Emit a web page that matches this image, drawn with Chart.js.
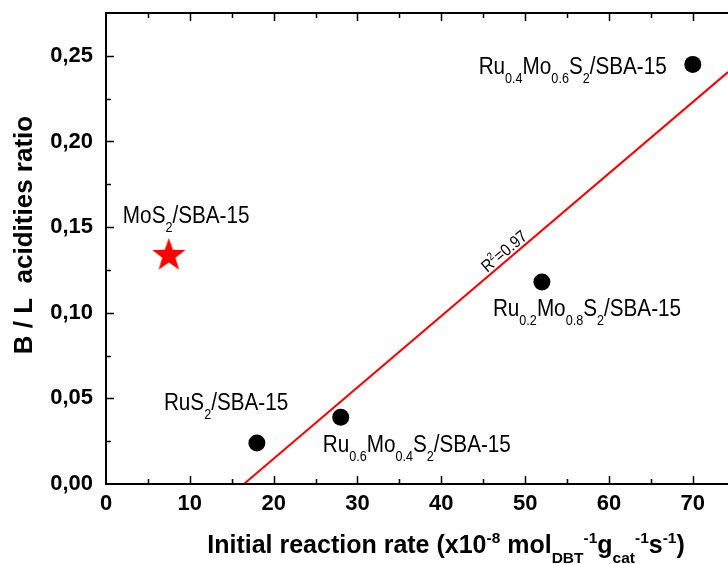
<!DOCTYPE html>
<html>
<head>
<meta charset="utf-8">
<title>B/L ratio vs initial rate</title>
<script src="https://cdn.jsdelivr.net/npm/chart.js@4.4.1/dist/chart.umd.min.js"></script>
<style>
html, body { margin: 0; padding: 0; background: #fff; overflow: hidden; }
canvas { display: block; }
</style>
</head>
<body>
<canvas id="myChart" width="728" height="564"></canvas>
<script>
// catalysts (black dots)
const catRate = [18, 28, 52, 70];
const catRatio = [0.024, 0.039, 0.118, 0.245];
const catLabels = [
    [['RuS', ''], ['2', 'sub'], ['/SBA-15', '']],
    [['Ru', ''], ['0.6', 'sub'], ['Mo', ''], ['0.4', 'sub'], ['S', ''], ['2', 'sub'], ['/SBA-15', '']],
    [['Ru', ''], ['0.2', 'sub'], ['Mo', ''], ['0.8', 'sub'], ['S', ''], ['2', 'sub'], ['/SBA-15', '']],
    [['Ru', ''], ['0.4', 'sub'], ['Mo', ''], ['0.6', 'sub'], ['S', ''], ['2', 'sub'], ['/SBA-15', '']]
];
// MoS2 reference (red star)
const refRate = [7.5];
const refRatio = [0.134];
const refLabel = [['MoS', ''], ['2', 'sub'], ['/SBA-15', '']];
// linear fit
const fitRate = [16.45, 74.2];
const fitRatio = [0, 0.2405];
const fitLabel = [['R', ''], ['2', 'sup'], ['=0.97', '']];
// axes
const xMin = 0, xMax = 74.2;
const yMin = 0, yMax = 0.275;
const xTicks = [0, 10, 20, 30, 40, 50, 60, 70];
const yTicks = [0, 0.05, 0.10, 0.15, 0.20, 0.25];
const xTitle = [['Initial reaction rate (x10', ''], ['-8', 'sup'], [' mol', ''], ['DBT', 'sub'], ['-1', 'sup'],
    ['g', ''], ['cat', 'sub'], ['-1', 'sup'], ['s', ''], ['-1', 'sup'], [')', '']];
const yTitle = 'B / L  acidities ratio';

// where the labels sit relative to their marker (px)
const catLabelPos = [
    { dx: -93, dy: -33, align: 'left' },
    { dx: -18, dy: 35, align: 'left' },
    { dx: -49, dy: 34, align: 'left' },
    { dx: -26, dy: 10, align: 'right' }
];
const refLabelPos = { dx: -46, dy: -31, align: 'left' };

const FAM = '"Liberation Sans", Arial, sans-serif';

function drawRich(ctx, segs, x, y, o) {
    const w = o.bold ? 'bold ' : '';
    let total = 0;
    segs.forEach(s => {
        ctx.font = w + (s[1] ? o.small : o.size) + 'px ' + FAM;
        total += ctx.measureText(s[0]).width;
    });
    ctx.save();
    ctx.translate(x, y);
    if (o.rot) ctx.rotate(o.rot);
    ctx.scale(o.sx || 1, 1);
    let cx = o.align === 'right' ? -total : (o.align === 'center' ? -total / 2 : 0);
    ctx.textAlign = 'left';
    ctx.textBaseline = 'alphabetic';
    ctx.fillStyle = o.color || '#000';
    segs.forEach(s => {
        ctx.font = w + (s[1] ? o.small : o.size) + 'px ' + FAM;
        let dy = 0;
        if (s[1] === 'sub') dy = o.size * 0.38;
        if (s[1] === 'sup') dy = -o.size * 0.42;
        ctx.fillText(s[0], cx, dy);
        cx += ctx.measureText(s[0]).width;
    });
    ctx.restore();
}

function makeStar(R, color) {
    const c = document.createElement('canvas');
    c.width = c.height = Math.ceil(2 * R + 2);
    const g = c.getContext('2d');
    const m = c.width / 2;
    g.beginPath();
    for (let i = 0; i < 10; i++) {
        const r = i % 2 === 0 ? R : R * 0.4;
        const a = -Math.PI / 2 + i * Math.PI / 5;
        g.lineTo(m + r * Math.cos(a), m + 1 + r * Math.sin(a));
    }
    g.closePath();
    g.fillStyle = color;
    g.fill();
    return c;
}

// frame, inner ticks, titles and point labels
const decor = {
    id: 'decor',
    afterDatasetsDraw(chart) {
        const ctx = chart.ctx;
        const a = chart.chartArea;
        const xs = chart.scales.x, ys = chart.scales.y;
        ctx.save();
        ctx.strokeStyle = '#000';
        ctx.lineWidth = 2;
        ctx.beginPath();
        ctx.moveTo(a.left, a.top); ctx.lineTo(a.right + 2, a.top);
        ctx.moveTo(a.left, a.top - 1); ctx.lineTo(a.left, a.bottom);
        ctx.lineTo(a.right + 2, a.bottom);
        ctx.stroke();
        ctx.lineWidth = 1.5;
        ctx.beginPath();
        for (let v = 5; v < xMax; v += 5) {
            const px = Math.round(xs.getPixelForValue(v)) + 0.5;
            const len = v % 10 === 0 ? 8 : 5;
            ctx.moveTo(px, a.bottom); ctx.lineTo(px, a.bottom - len);
            ctx.moveTo(px, a.top); ctx.lineTo(px, a.top + len);
        }
        for (let i = 1; i * 0.025 < yMax - 1e-6; i++) {
            const py = Math.round(ys.getPixelForValue(i * 0.025)) + 0.5;
            const len = i % 2 === 0 ? 8 : 5;
            ctx.moveTo(a.left, py); ctx.lineTo(a.left + len, py);
        }
        ctx.stroke();
        ctx.restore();

        // point labels
        catRate.forEach((r, i) => {
            const p = catLabelPos[i];
            drawRich(ctx, catLabels[i], xs.getPixelForValue(r) + p.dx, ys.getPixelForValue(catRatio[i]) + p.dy,
                { size: 23, small: 14, sx: 0.9, align: p.align });
        });
        drawRich(ctx, refLabel, xs.getPixelForValue(refRate[0]) + refLabelPos.dx,
            ys.getPixelForValue(refRatio[0]) + refLabelPos.dy, { size: 23, small: 14, sx: 0.9, align: 'left' });

        // R2 along the fit line
        const x0 = xs.getPixelForValue(fitRate[0]), y0 = ys.getPixelForValue(fitRatio[0]);
        const x1 = xs.getPixelForValue(fitRate[1]), y1 = ys.getPixelForValue(fitRatio[1]);
        const ang = Math.atan2(y1 - y0, x1 - x0);
        const t = (45.7 - fitRate[0]) / (fitRate[1] - fitRate[0]);
        const lx = x0 + t * (x1 - x0) + 3 * Math.sin(ang);
        const ly = y0 + t * (y1 - y0) - 3 * Math.cos(ang);
        drawRich(ctx, fitLabel, lx, ly, { size: 17, small: 11, sx: 0.88, align: 'left', rot: ang });

        // axis titles
        drawRich(ctx, xTitle, 446, 553, { size: 25, small: 15.5, bold: true, align: 'center' });
        ctx.save();
        ctx.translate(32, 235);
        ctx.rotate(-Math.PI / 2);
        ctx.font = 'bold 26px ' + FAM;
        ctx.fillStyle = '#000';
        ctx.textAlign = 'center';
        ctx.textBaseline = 'alphabetic';
        ctx.fillText(yTitle, 0, 0);
        ctx.restore();
    }
};

const tickFont = { family: FAM, size: 22, weight: 'bold' };

new Chart(document.getElementById('myChart'), {
    type: 'scatter',
    data: {
        datasets: [
            {
                label: 'fit',
                data: fitRate.map((x, i) => ({ x: x, y: fitRatio[i] })),
                showLine: true,
                borderColor: '#ff0000',
                borderWidth: 2,
                pointRadius: 0,
                order: 3
            },
            {
                label: 'RuMo',
                data: catRate.map((x, i) => ({ x: x, y: catRatio[i] })),
                backgroundColor: '#000',
                borderWidth: 0,
                pointRadius: 8.5,
                order: 1
            },
            {
                label: 'MoS2',
                data: refRate.map((x, i) => ({ x: x, y: refRatio[i] })),
                pointStyle: makeStar(17.5, '#ff0000'),
                order: 2
            }
        ]
    },
    options: {
        responsive: false,
        devicePixelRatio: 1,
        animation: false,
        layout: { autoPadding: false, padding: { top: 13, right: 0, left: 0, bottom: 0 } },
        plugins: { legend: { display: false }, tooltip: { enabled: false } },
        scales: {
            x: {
                type: 'linear',
                min: xMin,
                max: xMax,
                afterBuildTicks: s => { s.ticks = xTicks.map(v => ({ value: v })); },
                afterFit: s => { s.height = 80; s.paddingLeft = 0; s.paddingRight = 0; },
                grid: { display: false, drawTicks: false },
                border: { display: false },
                ticks: { autoSkip: false, color: '#000', font: tickFont, padding: 7, maxRotation: 0 }
            },
            y: {
                type: 'linear',
                min: yMin,
                max: yMax,
                afterBuildTicks: s => { s.ticks = yTicks.map(v => ({ value: v })); },
                afterFit: s => { s.width = 106; s.paddingTop = 0; s.paddingBottom = 0; },
                grid: { display: false, drawTicks: false },
                border: { display: false },
                ticks: {
                    autoSkip: false,
                    color: '#000',
                    font: tickFont,
                    padding: 13,
                    callback: v => v.toFixed(2).replace('.', ',')
                }
            }
        }
    },
    plugins: [decor]
});
</script>
</body>
</html>
